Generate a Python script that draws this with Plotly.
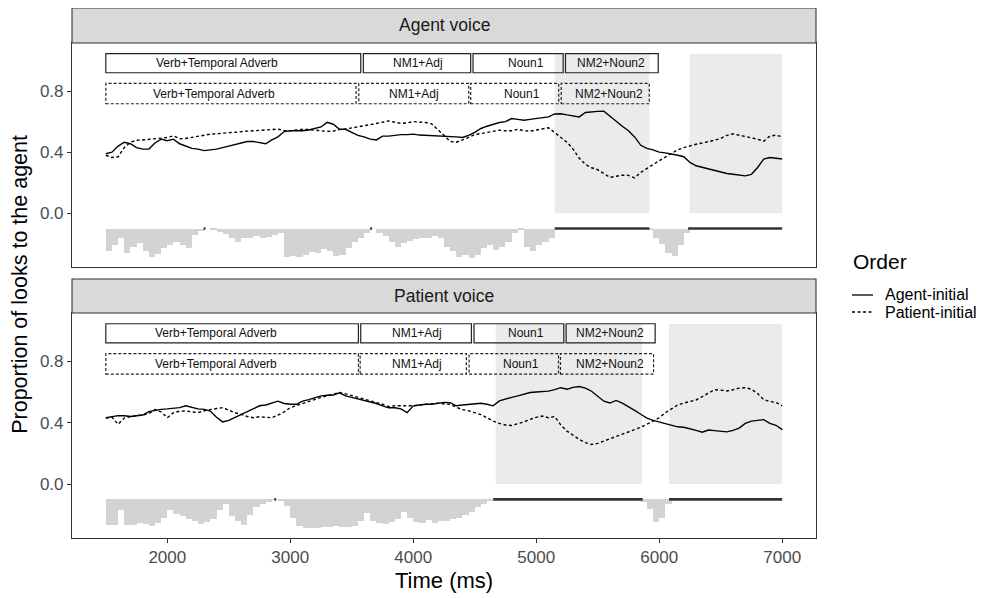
import plotly.graph_objects as go

# ---------------- data ----------------
time_ms = list(range(1500, 7001, 50))          # sample times (ms)
bin_start = time_ms[:-1]                       # 50-ms bins for the p-value bars

# Agent voice panel
av_agent_initial = [
    0.39, 0.40, 0.44, 0.465, 0.455, 0.43, 0.42, 0.42, 0.46, 0.485,
    0.475, 0.485, 0.455, 0.44, 0.425, 0.42, 0.41, 0.415, 0.42, 0.43,
    0.44, 0.45, 0.465, 0.47, 0.47, 0.46, 0.455, 0.48, 0.50, 0.535,
    0.54, 0.54, 0.54, 0.545, 0.555, 0.565, 0.595, 0.583, 0.55, 0.55,
    0.53, 0.51, 0.50, 0.485, 0.48, 0.505, 0.505, 0.51, 0.515, 0.515,
    0.518, 0.512, 0.51, 0.51, 0.51, 0.505, 0.505, 0.50, 0.496, 0.51,
    0.53, 0.555, 0.57, 0.583, 0.594, 0.60, 0.62, 0.615, 0.609, 0.615,
    0.622, 0.625, 0.631, 0.65, 0.652, 0.644, 0.636, 0.631, 0.66, 0.665,
    0.667, 0.669, 0.635, 0.605, 0.57, 0.54, 0.50, 0.445, 0.425, 0.415,
    0.40, 0.395, 0.39, 0.38, 0.37, 0.333, 0.311, 0.30, 0.289, 0.28,
    0.268, 0.26, 0.255, 0.248, 0.245, 0.255, 0.30, 0.355, 0.365, 0.36,
    0.355,
]
av_patient_initial = [
    0.38, 0.365, 0.37, 0.43, 0.465, 0.478, 0.48, 0.485, 0.49, 0.492,
    0.496, 0.507, 0.488, 0.49, 0.497, 0.505, 0.512, 0.518, 0.52, 0.525,
    0.528, 0.53, 0.535, 0.538, 0.54, 0.542, 0.545, 0.548, 0.551, 0.542,
    0.54, 0.545, 0.55, 0.548, 0.545, 0.54, 0.536, 0.538, 0.548, 0.552,
    0.558, 0.565, 0.572, 0.58, 0.588, 0.597, 0.605, 0.596, 0.588, 0.592,
    0.60, 0.597, 0.594, 0.585, 0.55, 0.51, 0.47, 0.465, 0.48, 0.50,
    0.515, 0.522, 0.53, 0.54, 0.544, 0.54, 0.54, 0.55, 0.54, 0.538,
    0.544, 0.55, 0.56, 0.528, 0.495, 0.465, 0.42, 0.36, 0.32, 0.298,
    0.285, 0.262, 0.235, 0.242, 0.25, 0.248, 0.232, 0.268, 0.295, 0.32,
    0.344, 0.368, 0.39, 0.415, 0.43, 0.443, 0.452, 0.46, 0.468, 0.478,
    0.49, 0.51, 0.52, 0.512, 0.504, 0.496, 0.485, 0.472, 0.505, 0.512,
    0.50,
]
av_bar_depth = [
    0.145, 0.105, 0.06, 0.16, 0.12, 0.095, 0.15, 0.189, 0.165, 0.13,
    0.105, 0.09, 0.11, 0.13, 0.04, 0.015, 0.0, 0.005, 0.02, 0.035,
    0.06, 0.085, 0.065, 0.065, 0.05, 0.065, 0.055, 0.04, 0.03, 0.185,
    0.18, 0.185, 0.17, 0.155, 0.16, 0.135, 0.15, 0.178, 0.17, 0.13,
    0.09, 0.06, 0.03, 0.0, 0.03, 0.05, 0.09, 0.12, 0.095, 0.08,
    0.07, 0.06, 0.065, 0.05, 0.065, 0.12, 0.15, 0.185, 0.17, 0.19,
    0.17, 0.125, 0.11, 0.14, 0.12, 0.09, 0.03, 0.01, 0.12, 0.145,
    0.11, 0.09, 0.06, 0, 0, 0, 0, 0, 0, 0,
    0, 0, 0, 0, 0, 0, 0, 0, 0.01, 0.06,
    0.1, 0.16, 0.18, 0.11, 0.03, 0, 0, 0, 0, 0,
    0, 0, 0, 0, 0, 0, 0, 0, 0, 0,
]
av_sig_windows = [[2295, 2310], [3650, 3665], [5150, 5920], [6235, 7000]]
av_shade_windows = [[5150, 5920], [6245, 7000]]

# Patient voice panel
pv_agent_initial = [
    0.432, 0.44, 0.446, 0.445, 0.44, 0.445, 0.45, 0.472, 0.48, 0.487,
    0.49, 0.492, 0.498, 0.51, 0.50, 0.49, 0.487, 0.476, 0.435, 0.405,
    0.415, 0.435, 0.455, 0.475, 0.49, 0.51, 0.515, 0.525, 0.54, 0.525,
    0.52, 0.52, 0.54, 0.55, 0.56, 0.575, 0.579, 0.58, 0.595, 0.575,
    0.565, 0.555, 0.545, 0.536, 0.525, 0.51, 0.497, 0.497, 0.49, 0.465,
    0.51, 0.515, 0.52, 0.52, 0.525, 0.532, 0.53, 0.51, 0.515, 0.52,
    0.525, 0.527, 0.52, 0.51, 0.542, 0.555, 0.565, 0.575, 0.585, 0.597,
    0.60, 0.602, 0.606, 0.615, 0.628, 0.618, 0.63, 0.636, 0.625, 0.605,
    0.575, 0.54, 0.528, 0.545, 0.527, 0.505, 0.48, 0.455, 0.43, 0.415,
    0.405, 0.395, 0.38, 0.373, 0.37, 0.362, 0.35, 0.338, 0.352, 0.348,
    0.346, 0.34, 0.35, 0.365, 0.395, 0.41, 0.415, 0.42, 0.395, 0.383,
    0.355,
]
pv_patient_initial = [
    0.43, 0.435, 0.39, 0.43, 0.44, 0.443, 0.45, 0.46, 0.485, 0.47,
    0.432, 0.465, 0.475, 0.476, 0.47, 0.465, 0.478, 0.487, 0.492, 0.498,
    0.48, 0.465, 0.454, 0.44, 0.432, 0.439, 0.435, 0.432, 0.45, 0.47,
    0.498, 0.512, 0.525, 0.54, 0.55, 0.565, 0.575, 0.586, 0.597, 0.588,
    0.577, 0.567, 0.555, 0.542, 0.535, 0.52, 0.505, 0.51, 0.51, 0.51,
    0.51, 0.515, 0.52, 0.525, 0.527, 0.522, 0.52, 0.50, 0.485, 0.478,
    0.465, 0.452, 0.432, 0.41, 0.395, 0.385, 0.382, 0.392, 0.405, 0.421,
    0.435, 0.443, 0.432, 0.44, 0.385, 0.345, 0.318, 0.291, 0.27, 0.258,
    0.265, 0.28, 0.291, 0.308, 0.325, 0.337, 0.353, 0.37, 0.39, 0.41,
    0.432, 0.465, 0.49, 0.515, 0.528, 0.538, 0.548, 0.57, 0.595, 0.615,
    0.612, 0.607, 0.615, 0.625, 0.628, 0.618, 0.59, 0.55, 0.538, 0.532,
    0.51,
]
pv_bar_depth = [
    0.168, 0.17, 0.07, 0.17, 0.165, 0.155, 0.16, 0.175, 0.155, 0.12,
    0.07, 0.095, 0.11, 0.125, 0.14, 0.16, 0.15, 0.13, 0.07, 0.03,
    0.11, 0.14, 0.165, 0.1, 0.05, 0.03, 0.015, 0.003, 0.01, 0.045,
    0.12, 0.175, 0.185, 0.186, 0.184, 0.181, 0.178, 0.175, 0.178, 0.18,
    0.175, 0.14, 0.09, 0.14, 0.155, 0.164, 0.145, 0.13, 0.08, 0.12,
    0.15, 0.153, 0.135, 0.155, 0.142, 0.14, 0.13, 0.12, 0.1, 0.08,
    0.05, 0.03, 0.01, 0, 0, 0, 0, 0, 0, 0,
    0, 0, 0, 0, 0, 0, 0, 0, 0, 0,
    0, 0, 0, 0, 0, 0, 0, 0.015, 0.06, 0.15,
    0.12, 0.03, 0, 0, 0, 0, 0, 0, 0, 0,
    0, 0, 0, 0, 0, 0, 0, 0, 0, 0,
]
pv_sig_windows = [[2870, 2885], [4650, 5865], [6080, 7000]]
pv_shade_windows = [[4670, 5860], [6080, 7000]]

# Word-region boxes
segments = ["Verb+Temporal Adverb", "NM1+Adj", "Noun1", "NM2+Noun2"]
av_ai_start = [1500, 3594, 4486, 5238]
av_ai_end = [3573, 4467, 5219, 5992]
av_ai_label = [2406, 4035, 4913, 5608]
av_pi_start = [1500, 3557, 4467, 5203]
av_pi_end = [3535, 4451, 5183, 5919]
av_pi_label = [2378, 4008, 4886, 5589]
pv_ai_start = [1500, 3573, 4494, 5243]
pv_ai_end = [3554, 4473, 5224, 5967]
pv_ai_label = [2397, 4027, 4919, 5600]
pv_pi_start = [1500, 3568, 4454, 5197]
pv_pi_end = [3554, 4432, 5181, 5954]
pv_pi_label = [2397, 4027, 4878, 5600]

panel_titles = ["Agent voice", "Patient voice"]
order_levels = ["Agent-initial", "Patient-initial"]
x_ticks = [2000, 3000, 4000, 5000, 6000, 7000]
y_ticks = [0.0, 0.4, 0.8]

assert len(time_ms) == 111
for s in (av_agent_initial, av_patient_initial, pv_agent_initial, pv_patient_initial):
    assert len(s) == 111, len(s)
for s in (av_bar_depth, pv_bar_depth):
    assert len(s) == 110, len(s)

# ---------------- figure ----------------
FONT = "Liberation Sans, Arial, sans-serif"
DARK = "#333333"
BAR_BASE = -0.1
DASH_LINE = "3px,2.5px"

fig = go.Figure()

panels = [
    dict(xa="x", ya="y", ai=av_agent_initial, pi=av_patient_initial, depth=av_bar_depth,
         sig=av_sig_windows, shade=av_shade_windows,
         boxes=[(av_ai_start, av_ai_end, av_ai_label, "solid"),
                (av_pi_start, av_pi_end, av_pi_label, "dash")]),
    dict(xa="x2", ya="y2", ai=pv_agent_initial, pi=pv_patient_initial, depth=pv_bar_depth,
         sig=pv_sig_windows, shade=pv_shade_windows,
         boxes=[(pv_ai_start, pv_ai_end, pv_ai_label, "solid"),
                (pv_pi_start, pv_pi_end, pv_pi_label, "dash")]),
]

shapes = []
annotations = []
box_rows = {"solid": (0.92, 1.045), "dash": (0.717, 0.85)}

for p in panels:
    xref, yref = p["xa"], p["ya"]
    fig.add_trace(go.Bar(
        x=bin_start, y=[-d for d in p["depth"]], base=BAR_BASE,
        width=50, offset=0, marker=dict(color="#D3D3D3", line=dict(width=0)),
        xaxis=xref, yaxis=yref, showlegend=False, hoverinfo="skip"))
    sx, sy = [], []
    for a, b in p["sig"]:
        sx += [a, b, None]
        sy += [BAR_BASE, BAR_BASE, None]
    fig.add_trace(go.Scatter(x=sx, y=sy, mode="lines",
                             line=dict(color=DARK, width=2.6),
                             xaxis=xref, yaxis=yref, showlegend=False, hoverinfo="skip"))
    fig.add_trace(go.Scatter(x=time_ms, y=p["ai"], mode="lines", name=order_levels[0],
                             line=dict(color="black", width=1.4), showlegend=False,
                             xaxis=xref, yaxis=yref))
    fig.add_trace(go.Scatter(x=time_ms, y=p["pi"], mode="lines", name=order_levels[1],
                             line=dict(color="black", width=1.4, dash=DASH_LINE), showlegend=False,
                             xaxis=xref, yaxis=yref))
    for a, b in p["shade"]:
        shapes.append(dict(type="rect", xref=xref, yref=yref, x0=a, x1=b, y0=0, y1=1.043,
                           fillcolor="#EBEBEB", line=dict(width=0), layer="below"))
    for starts, ends, labels, style in p["boxes"]:
        y0, y1 = box_rows[style]
        for a, b, lx, txt in zip(starts, ends, labels, segments):
            shapes.append(dict(type="rect", xref=xref, yref=yref, x0=a, x1=b, y0=y0, y1=y1,
                               fillcolor="rgba(0,0,0,0)",
                               line=dict(color="#222222", width=1.2,
                                         dash="solid" if style == "solid" else "3px,2px"),
                               layer="above"))
            annotations.append(dict(x=lx, y=(y0 + y1) / 2, xref=xref, yref=yref, text=txt,
                                    xanchor="center", yanchor="middle",
                                    showarrow=False, font=dict(size=12, color="#111111", family=FONT)))

# panel / strip layout (paper fractions)
top_dom = [0.5113, 0.934]
bot_dom = [0.0, 0.4245]
strips = [(0.934, 1.0, panel_titles[0]), (0.4245, 0.4887, panel_titles[1])]
for y0, y1, txt in strips:
    shapes.append(dict(type="rect", xref="paper", yref="paper", x0=0, x1=1, y0=y0, y1=y1,
                       fillcolor="#D9D9D9", line=dict(color=DARK, width=1.1), layer="above"))
    annotations.append(dict(x=0.5, y=(y0 + y1) / 2, xref="paper", yref="paper", text=txt,
                            xanchor="center", yanchor="middle",
                            showarrow=False, font=dict(size=17.5, color="#1A1A1A", family=FONT)))

# axis titles
annotations.append(dict(x=-0.0703, y=0.479, xref="paper", yref="paper",
                        xanchor="center", yanchor="middle",
                        text="Proportion of looks to the agent", textangle=-90,
                        showarrow=False, font=dict(size=21.5, color="black", family=FONT)))
annotations.append(dict(x=0.5, y=-0.0795, xref="paper", yref="paper",
                        xanchor="center", yanchor="middle",
                        text="Time (ms)", showarrow=False,
                        font=dict(size=22, color="black", family=FONT)))

# legend (drawn manually to match ggplot spacing)
annotations.append(dict(x=1.0466, y=0.5208, xref="paper", yref="paper",
                        xanchor="left", yanchor="middle", text="Order", showarrow=False,
                        font=dict(size=21, color="black", family=FONT)))
legend_rows = [(0.4585, "solid"), (0.4264, DASH_LINE)]
for (ly, dash), name in zip(legend_rows, order_levels):
    shapes.append(dict(type="line", xref="paper", yref="paper", x0=1.0484, x1=1.0766,
                       y0=ly, y1=ly, line=dict(color="black", width=1.3, dash=dash)))
    annotations.append(dict(x=1.0905, y=ly, xref="paper", yref="paper",
                            xanchor="left", yanchor="middle", text=name, showarrow=False,
                            font=dict(size=16, color="black", family=FONT)))

axis_common = dict(showgrid=False, zeroline=False, showline=True, mirror=True,
                   linecolor=DARK, linewidth=1.1)
tick_common = dict(ticks="outside", ticklen=4, tickcolor=DARK, tickwidth=1.1,
                   tickfont=dict(size=17, color="#4D4D4D", family=FONT))
xrange = [1225, 7275]
yrange = [-0.352, 1.115]

fig.update_layout(
    width=979, height=590,
    margin=dict(l=64, r=171, t=0, b=60, autoexpand=False),
    paper_bgcolor="white", plot_bgcolor="white",
    font=dict(family=FONT, color="black"),
    bargap=0, barmode="overlay",
    showlegend=False,
    xaxis=dict(domain=[0, 1], anchor="y", range=xrange, matches="x2",
               showticklabels=False, ticks="", **axis_common),
    yaxis=dict(domain=top_dom, anchor="x", range=yrange, tickvals=y_ticks,
               tickformat=".1f", **tick_common, **axis_common),
    xaxis2=dict(domain=[0, 1], anchor="y2", range=xrange, tickvals=x_ticks,
                **tick_common, **axis_common),
    yaxis2=dict(domain=bot_dom, anchor="x2", range=yrange, tickvals=y_ticks,
                tickformat=".1f", **tick_common, **axis_common),
    shapes=shapes,
    annotations=annotations,
)

fig.write_html("out.html")
